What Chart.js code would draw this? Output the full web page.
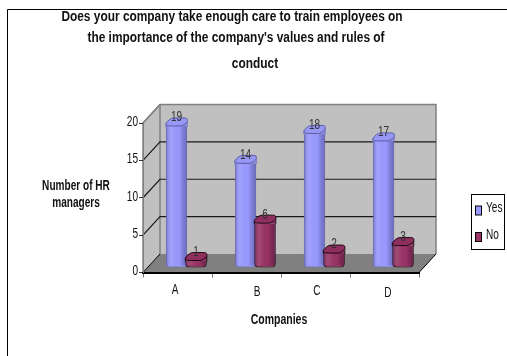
<!DOCTYPE html>
<html>
<head>
<meta charset="utf-8">
<style>
  html, body { margin: 0; padding: 0; background: #fff; }
  #wrap { width: 507px; height: 356px; }
</style>
<script src="https://cdn.jsdelivr.net/npm/chart.js@4"></script>
</head>
<body>
<div id="wrap"><canvas id="myChart"></canvas></div>
<script>
var categories = ["A", "B", "C", "D"];
var yesValues = [19, 14, 18, 17];
var noValues = [1, 6, 2, 3];
var yTicks = [0, 5, 10, 15, 20];
var titleLines = [
  "Does your company take enough care to train employees on",
  "the importance of the company's values and rules of",
  "conduct",
];
var yTitleLines = ["Number of HR", "managers"];
var xTitle = "Companies";

var FONT = '"Liberation Sans", sans-serif';

// offset of the back wall from the front plane, and of the bars inside the box
var DEPTH_X = 17, DEPTH_Y = -18.5;
var BAR_X = 8.8, BAR_Y = -4.5;
// the category labels sit unevenly in the original
var catLabelPos = [[175, 290], [257, 292], [317, 291], [388, 293]];

// the original text is tall and squeezed sideways, so scale it on x
function text(ctx, str, x, y, font, color, sx, align) {
  ctx.save();
  ctx.font = font;
  ctx.fillStyle = color;
  ctx.textAlign = align || "center";
  ctx.textBaseline = "middle";
  ctx.translate(x, y);
  ctx.scale(sx, 1);
  ctx.fillText(str, 0, 0);
  ctx.restore();
}

function capPath(ctx, x, y, w) {
  ctx.beginPath();
  ctx.moveTo(x, y - 2.5);
  ctx.bezierCurveTo(x + 2, y - 5.5, x + 5, y - 8, x + 8, y - 8);
  ctx.lineTo(x + w - 3, y - 8);
  ctx.bezierCurveTo(x + w, y - 8, x + w + 0.5, y - 6.5, x + w, y - 4.5);
  ctx.bezierCurveTo(x + w - 2, y - 1.5, x + w - 5, y, x + w - 7, y);
  ctx.lineTo(x + 4, y);
  ctx.bezierCurveTo(x + 2, y, x, y - 1, x, y - 2.5);
  ctx.closePath();
}

var box3d = {
  id: "box3d",
  beforeDatasetDraw: function () {
    return false; // bars are drawn below, category by category
  },
  beforeDraw: function (chart) {
    var ctx = chart.ctx, a = chart.chartArea, y = chart.scales.y;
    ctx.save();
    // frame
    ctx.strokeStyle = "#000";
    ctx.lineWidth = 1;
    ctx.beginPath();
    ctx.moveTo(7.5, 356);
    ctx.lineTo(7.5, 9.5);
    ctx.lineTo(507, 9.5);
    ctx.stroke();
    // walls
    ctx.fillStyle = "#c0c0c0";
    ctx.beginPath();
    ctx.moveTo(a.left, a.bottom);
    ctx.lineTo(a.left, a.top);
    ctx.lineTo(a.left + DEPTH_X, a.top + DEPTH_Y);
    ctx.lineTo(a.right + DEPTH_X, a.top + DEPTH_Y);
    ctx.lineTo(a.right + DEPTH_X, a.bottom + DEPTH_Y);
    ctx.lineTo(a.left + DEPTH_X, a.bottom + DEPTH_Y);
    ctx.closePath();
    ctx.fill();
    // floor
    ctx.fillStyle = "#808080";
    ctx.beginPath();
    ctx.moveTo(a.left, a.bottom);
    ctx.lineTo(a.left + DEPTH_X, a.bottom + DEPTH_Y);
    ctx.lineTo(a.right + DEPTH_X, a.bottom + DEPTH_Y);
    ctx.lineTo(a.right, a.bottom);
    ctx.closePath();
    ctx.fill();
    // wall outline
    ctx.strokeStyle = "#808080";
    ctx.lineWidth = 1.5;
    ctx.beginPath();
    ctx.moveTo(a.left, a.bottom);
    ctx.lineTo(a.left, a.top);
    ctx.lineTo(a.left + DEPTH_X, a.top + DEPTH_Y);
    ctx.lineTo(a.right + DEPTH_X, a.top + DEPTH_Y);
    ctx.lineTo(a.right + DEPTH_X, a.bottom + DEPTH_Y);
    ctx.moveTo(a.left + DEPTH_X, a.top + DEPTH_Y);
    ctx.lineTo(a.left + DEPTH_X, a.bottom + DEPTH_Y);
    ctx.stroke();
    // gridlines, from the scale's own ticks
    ctx.strokeStyle = "#1a1a1a";
    ctx.lineWidth = 1.2;
    yTicks.slice(1, -1).forEach(function (t) {
      var py = y.getPixelForValue(t);
      ctx.beginPath();
      ctx.moveTo(a.left, py);
      ctx.lineTo(a.left + DEPTH_X, py + DEPTH_Y);
      ctx.lineTo(a.right + DEPTH_X, py + DEPTH_Y);
      ctx.stroke();
    });
    ctx.beginPath();
    ctx.moveTo(a.left, a.top);
    ctx.lineTo(a.left + DEPTH_X, a.top + DEPTH_Y);
    ctx.strokeStyle = "#808080";
    ctx.stroke();
    // floor edges
    ctx.strokeStyle = "#000";
    ctx.lineWidth = 1;
    ctx.beginPath();
    ctx.moveTo(a.right, a.bottom);
    ctx.lineTo(a.right + DEPTH_X, a.bottom + DEPTH_Y);
    ctx.moveTo(a.left, a.bottom);
    ctx.lineTo(a.left + DEPTH_X, a.bottom + DEPTH_Y);
    ctx.stroke();
    ctx.restore();
  },
  afterDatasetsDraw: function (chart) {
    var ctx = chart.ctx;
    var styles = [
      { cap: "#9797f5", side: "#8a8ae6", line: "#5c5ca8", dark: "rgba(40,40,110,0.42)", light: "rgba(255,255,255,0.06)" },
      { cap: "#8f2f60", side: "#8f2f60", line: "#1f0812", dark: "rgba(40,0,25,0.38)", light: "rgba(255,255,255,0.08)" },
    ];
    ctx.save();
    ctx.translate(BAR_X, BAR_Y);
    categories.forEach(function (c, i) {
      chart.data.datasets.forEach(function (ds, d) {
        var bar = chart.getDatasetMeta(d).data[i];
        var s = styles[d];
        var x = bar.x - bar.width / 2, w = bar.width;
        bar.draw(ctx);
        // cylinder shading
        var g = ctx.createLinearGradient(x, 0, x + w, 0);
        g.addColorStop(0, s.dark);
        g.addColorStop(0.3, s.light);
        g.addColorStop(0.62, "rgba(0,0,0,0)");
        g.addColorStop(1, s.dark);
        ctx.fillStyle = g;
        ctx.fillRect(x + 0.5, bar.y, w - 1, bar.base - bar.y - 2);
        // close the gap between body and top
        ctx.fillStyle = s.side;
        ctx.fillRect(x + 0.5, bar.y - 3, w - 1, 3);
        ctx.strokeStyle = ds.borderColor;
        ctx.lineWidth = 1;
        ctx.beginPath();
        ctx.moveTo(x, bar.y - 2.5);
        ctx.lineTo(x, bar.y + 1);
        ctx.moveTo(x + w, bar.y - 4.5);
        ctx.lineTo(x + w, bar.y + 1);
        ctx.stroke();
        // top of the column
        capPath(ctx, x, bar.y, w);
        ctx.fillStyle = s.cap;
        ctx.fill();
        ctx.strokeStyle = s.line;
        ctx.stroke();
      });
    });
    // value labels go over the columns
    chart.data.datasets.forEach(function (ds, d) {
      chart.getDatasetMeta(d).data.forEach(function (bar, i) {
        text(ctx, String(ds.data[i]), bar.x, bar.y - 8.5, "14px " + FONT, "#333", 0.72);
      });
    });
    ctx.restore();
  },
  afterDraw: function (chart) {
    var ctx = chart.ctx, y = chart.scales.y;
    ctx.save();
    var bold = "bold 14px " + FONT, plain = "14px " + FONT;
    text(ctx, titleLines[0], 232, 17, bold, "#111", 0.85);
    text(ctx, titleLines[1], 236, 38, bold, "#111", 0.85);
    text(ctx, titleLines[2], 255, 64, bold, "#111", 0.85);
    text(ctx, yTitleLines[0], 76, 186, bold, "#111", 0.72);
    text(ctx, yTitleLines[1], 76, 203, bold, "#111", 0.72);
    text(ctx, xTitle, 279, 320, bold, "#111", 0.75);
    yTicks.forEach(function (t) {
      text(ctx, String(t), 138, y.getPixelForValue(t) - 1, plain, "#111", 0.72, "right");
    });
    categories.forEach(function (c, i) {
      text(ctx, c, catLabelPos[i][0], catLabelPos[i][1], plain, "#111", 0.72);
    });
    // legend
    ctx.strokeStyle = "#000";
    ctx.lineWidth = 1;
    ctx.strokeRect(471.5, 194.5, 33, 55);
    chart.data.datasets.forEach(function (ds, d) {
      var ly = 210.5 + d * 26.5;
      ctx.fillStyle = ds.backgroundColor;
      ctx.fillRect(475.5, ly - 4.5, 6, 9);
      ctx.strokeRect(475.5, ly - 4.5, 6, 9);
      text(ctx, ds.label, 486, ly - 2, plain, "#111", 0.72, "left");
    });
    ctx.restore();
  },
};

var ctx = document.getElementById("myChart").getContext("2d");
var myChart = new Chart(ctx, {
  type: "bar",
  plugins: [box3d],
  data: {
    labels: categories,
    datasets: [
      {
        label: "Yes",
        data: yesValues,
        backgroundColor: "#9999ff",
        borderColor: "#7676c8",
        borderWidth: 1,
        borderSkipped: "top",
        borderRadius: { bottomLeft: 4, bottomRight: 4 },
      },
      {
        label: "No",
        data: noValues,
        backgroundColor: "#993366",
        borderColor: "#1f0812",
        borderWidth: 1,
        borderSkipped: "top",
        borderRadius: { bottomLeft: 4, bottomRight: 4 },
      },
    ],
  },
  options: {
    responsive: true,
    maintainAspectRatio: false,
    animation: false,
    categoryPercentage: 0.565,
    barPercentage: 1.1,
    layout: { padding: { left: 113, top: 123, right: 88, bottom: 77.5 } },
    plugins: { legend: { display: false }, title: { display: false }, tooltip: { enabled: false } },
    scales: {
      x: {
        afterFit: function (s) { s.height = 6; },
        grid: { drawOnChartArea: false, drawTicks: true, tickLength: 5, color: "#777", offset: true },
        border: { color: "#000", width: 2 },
        ticks: { display: false },
      },
      y: {
        min: 0,
        max: 20,
        afterFit: function (s) { s.width = 30; },
        afterBuildTicks: function (s) {
          s.ticks = yTicks.map(function (v) { return { value: v }; });
        },
        grid: { drawOnChartArea: false, drawTicks: true, tickLength: 4, color: "#333" },
        border: { color: "#808080", width: 1 },
        ticks: { display: false },
      },
    },
  },
});
</script>
</body>
</html>
